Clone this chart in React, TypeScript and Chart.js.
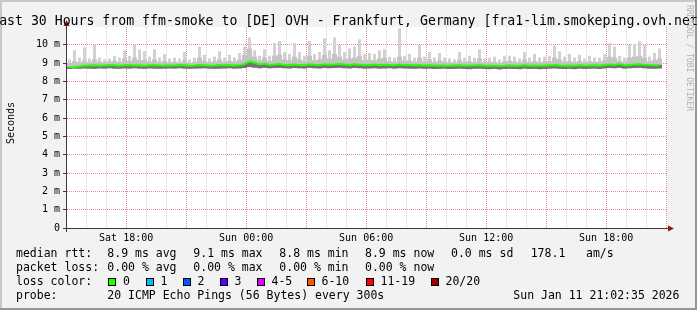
import React, { useEffect, useRef } from 'react';
import { Chart, registerables } from 'chart.js';

Chart.register(...registerables);

// ---- time frame (hours) ----
const START_CLOCK = 15 + 2 / 60 + 35 / 3600; // Sat 15:02:35, hours since Sat 00:00
const SPAN_HOURS = 30;
const BUCKET_HOURS = 0.25; // one smoke column per 15 minutes

// ---- series values (milliseconds), one value per 15-minute bucket ----
const smokeMax = [
  9.2, 9.7, 9.3, 9.85, 9.25, 10.0, 9.3, 9.2, 9.25, 9.4,
  9.3, 9.7, 9.4, 10.0, 9.75, 9.65, 9.35, 9.75, 9.3, 9.5,
  9.25, 9.3, 9.25, 9.6, 9.2, 9.3, 9.9, 9.45, 9.25, 9.35,
  9.65, 9.3, 9.45, 9.3, 9.55, 9.9, 10.4, 9.7, 9.4, 9.75,
  9.4, 10.1, 10.2, 9.6, 9.5, 10.1, 9.6, 9.4, 10.2, 9.5,
  9.6, 10.35, 9.7, 10.4, 10.0, 9.6, 9.8, 9.9, 10.3, 9.5,
  9.55, 9.5, 9.7, 9.75, 9.35, 9.3, 10.9, 9.4, 9.5, 9.3,
  10.0, 9.35, 9.6, 9.3, 9.55, 9.3, 9.25, 9.2, 9.6, 9.3,
  9.4, 9.3, 9.75, 9.25, 9.3, 9.35, 9.2, 9.4, 9.4, 9.35,
  9.25, 9.6, 9.3, 9.5, 9.3, 9.35, 9.4, 9.95, 9.65, 9.35,
  9.5, 9.3, 9.45, 9.25, 9.4, 9.3, 9.3, 9.5, 10.1, 9.9,
  9.4, 9.3, 10.0, 10.05, 10.2, 10.0, 9.35, 9.55, 9.8,
];

const smokeMid = [
  9.0, 9.1, 9.05, 9.15, 9.05, 9.2, 9.08, 9.05, 9.1, 9.12,
  9.06, 9.25, 9.12, 9.3, 9.15, 9.18, 9.08, 9.2, 9.06, 9.12,
  9.05, 9.08, 9.04, 9.15, 9.02, 9.06, 9.3, 9.12, 9.05, 9.1,
  9.2, 9.06, 9.12, 9.08, 9.18, 9.45, 9.8, 9.35, 9.15, 9.3,
  9.12, 9.4, 9.45, 9.2, 9.15, 9.35, 9.2, 9.12, 9.4, 9.15,
  9.2, 9.45, 9.25, 9.5, 9.35, 9.2, 9.25, 9.3, 9.4, 9.15,
  9.18, 9.15, 9.25, 9.3, 9.1, 9.08, 9.35, 9.12, 9.15, 9.08,
  9.3, 9.1, 9.2, 9.06, 9.15, 9.08, 9.05, 9.04, 9.18, 9.06,
  9.1, 9.05, 9.25, 9.04, 9.06, 9.08, 9.02, 9.1, 9.12, 9.08,
  9.04, 9.18, 9.06, 9.12, 9.05, 9.08, 9.1, 9.3, 9.2, 9.08,
  9.12, 9.06, 9.12, 9.04, 9.1, 9.06, 9.08, 9.15, 9.35, 9.3,
  9.12, 9.08, 9.3, 9.35, 9.4, 9.3, 9.1, 9.18, 9.25,
];

const smokeMin = [
  8.68, 8.7, 8.69, 8.71, 8.7, 8.69, 8.71, 8.7, 8.72, 8.7,
  8.69, 8.71, 8.7, 8.72, 8.7, 8.69, 8.71, 8.7, 8.69, 8.7,
  8.71, 8.7, 8.72, 8.7, 8.69, 8.7, 8.71, 8.72, 8.7, 8.69,
  8.7, 8.71, 8.72, 8.7, 8.71, 8.73, 8.78, 8.75, 8.72, 8.74,
  8.72, 8.73, 8.74, 8.72, 8.71, 8.73, 8.72, 8.71, 8.74, 8.72,
  8.71, 8.73, 8.72, 8.73, 8.74, 8.72, 8.71, 8.73, 8.72, 8.7,
  8.71, 8.72, 8.7, 8.71, 8.72, 8.7, 8.72, 8.71, 8.7, 8.69,
  8.71, 8.69, 8.7, 8.68, 8.69, 8.7, 8.68, 8.69, 8.7, 8.68,
  8.67, 8.69, 8.7, 8.68, 8.67, 8.69, 8.66, 8.68, 8.69, 8.68,
  8.67, 8.7, 8.68, 8.69, 8.67, 8.68, 8.7, 8.71, 8.69, 8.68,
  8.69, 8.67, 8.7, 8.68, 8.69, 8.7, 8.68, 8.71, 8.73, 8.72,
  8.74, 8.7, 8.72, 8.73, 8.74, 8.72, 8.7, 8.69, 8.71,
];

const medianRtt = [
  8.78, 8.79, 8.82, 8.86, 8.87, 8.88, 8.86, 8.87, 8.89, 8.88,
  8.86, 8.88, 8.9, 8.87, 8.88, 8.86, 8.88, 8.89, 8.87, 8.86,
  8.88, 8.87, 8.89, 8.88, 8.86, 8.87, 8.9, 8.88, 8.86, 8.87,
  8.89, 8.88, 8.9, 8.87, 8.89, 8.95, 9.08, 9.02, 8.92, 8.97,
  8.9, 8.93, 8.95, 8.9, 8.89, 8.92, 8.9, 8.88, 8.93, 8.91,
  8.9, 8.94, 8.91, 8.93, 8.95, 8.92, 8.9, 8.93, 8.91, 8.89,
  8.9, 8.92, 8.89, 8.91, 8.9, 8.88, 8.92, 8.9, 8.89, 8.88,
  8.9, 8.87, 8.88, 8.86, 8.87, 8.86, 8.85, 8.87, 8.88, 8.86,
  8.85, 8.87, 8.89, 8.86, 8.85, 8.86, 8.84, 8.85, 8.87, 8.86,
  8.85, 8.88, 8.86, 8.87, 8.85, 8.86, 8.88, 8.9, 8.87, 8.86,
  8.87, 8.85, 8.88, 8.86, 8.87, 8.88, 8.86, 8.89, 8.92, 8.9,
  8.95, 8.88, 8.9, 8.92, 8.94, 8.91, 8.89, 8.88, 8.9,
];

// ---- axis ticks ----
const xTickClock = [18, 24, 30, 36, 42]; // hours since Sat 00:00
const xTickLabels = ['Sat 18:00', 'Sun 00:00', 'Sun 06:00', 'Sun 12:00', 'Sun 18:00'];
const Y_MAX = 10.97;
const Y_STEP = 0.5;

// ---- legend texts ----
const rttStats = ['8.9 ms avg', '9.1 ms max', '8.8 ms min', '8.9 ms now', '0.0 ms sd', '178.1', 'am/s'];
const lossStats = ['0.00 % avg', '0.00 % max', '0.00 % min', '0.00 % now'];
const lossLabels = ['0', '1', '2', '3', '4-5', '6-10', '11-19', '20/20'];
const lossColors = ['#26ff00', '#00b8ff', '#0059ff', '#5e00ff', '#dd00ff', '#ff5500', '#ff0000', '#a10000'];
const probeText = '20 ICMP Echo Pings (56 Bytes) every 300s';
const stampText = 'Sun Jan 11 21:02:35 2026';
const titleText = 'Last 30 Hours from ffm-smoke to [DE] OVH - Frankfurt, Germany [fra1-lim.smokeping.ovh.net]';

const MONO = "'DejaVu Sans Mono', monospace";
const MAJOR = 'rgb(228, 140, 140)';
const MINOR = 'rgb(208, 208, 208)';
const AXIS = '#3a3a3a';
const ARROW = '#8b1a1a';

const W = 697;
const H = 310;
const PLOT_LEFT = 67;
const PLOT_RIGHT = 667;
const PLOT_TOP = 27;
const PLOT_BOTTOM = 228;

function bucketHour(i: number) {
  return (i + 0.5) * BUCKET_HOURS;
}

export default function App() {
  const ref = useRef<HTMLCanvasElement>(null);

  useEffect(() => {
    document.body.style.margin = '0';
    const canvas = ref.current;
    if (!canvas) return;

    const firstHour = Math.ceil(START_CLOCK);
    const hourClocks: number[] = [];
    for (let c = firstHour; c - START_CLOCK <= SPAN_HOURS; c++) hourClocks.push(c);
    const xTicks = hourClocks.map((c) => c - START_CLOCK);
    const xMajor = hourClocks.map((c) => c % 3 === 0);
    const xLabel = hourClocks.map((c) => {
      const k = xTickClock.indexOf(c);
      return k >= 0 ? xTickLabels[k] : '';
    });

    const yTicks: number[] = [];
    for (let k = 0; k * Y_STEP <= Y_MAX; k++) yTicks.push(k * Y_STEP);

    const range = (lo: number[], hi: number[]) =>
      hi.map((h, i) => ({ x: bucketHour(i), y: [lo[i], h] }));

    const framePlugin = {
      id: 'frame',
      beforeDraw(chart: any) {
        const { ctx, chartArea: a } = chart;
        ctx.save();
        ctx.fillStyle = '#f2f2f2';
        ctx.fillRect(0, 0, W, H);
        ctx.fillStyle = '#c8c8c8';
        ctx.fillRect(0, 0, W, 2);
        ctx.fillRect(0, 0, 2, H);
        ctx.fillStyle = '#969696';
        ctx.fillRect(0, H - 2, W, 2);
        ctx.fillRect(W - 2, 0, 2, H);
        ctx.fillStyle = '#ffffff';
        ctx.fillRect(a.left, a.top, a.right - a.left, a.bottom - a.top);
        ctx.restore();
      },
      beforeDatasetsDraw(chart: any) {
        const { ctx, chartArea: a, scales } = chart;
        const L = Math.round(a.left);
        const R = Math.round(a.right);
        const T = Math.round(a.top);
        const B = Math.round(a.bottom);
        ctx.save();
        const drawH = (py: number, col: string) => {
          ctx.fillStyle = col;
          for (let x = L; x < R; x += 2) ctx.fillRect(x, py, 1, 1);
        };
        const drawV = (px: number, col: string) => {
          ctx.fillStyle = col;
          for (let y = B - 1; y >= T; y -= 2) ctx.fillRect(px, y, 1, 1);
        };
        for (const pass of [false, true]) {
          scales.y.ticks.forEach((t: any) => {
            const major = Number.isInteger(t.value);
            if (major !== pass || t.value === 0) return;
            drawH(Math.floor(scales.y.getPixelForValue(t.value)), major ? MAJOR : MINOR);
          });
          scales.x.ticks.forEach((t: any, i: number) => {
            if (xMajor[i] !== pass) return;
            drawV(Math.floor(scales.x.getPixelForValue(t.value)), xMajor[i] ? MAJOR : MINOR);
          });
        }
        ctx.fillStyle = AXIS;
        scales.y.ticks.forEach((t: any) => {
          if (!Number.isInteger(t.value)) return;
          ctx.fillRect(L - 4, Math.floor(scales.y.getPixelForValue(t.value)), 3, 1);
        });
        ctx.restore();
      },
      afterDraw(chart: any) {
        const { ctx, chartArea: a } = chart;
        ctx.save();
        ctx.strokeStyle = AXIS;
        ctx.lineWidth = 1;
        const ax = a.left - 0.5;
        const ay = a.bottom + 0.5;
        ctx.beginPath();
        ctx.moveTo(ax, a.bottom + 4);
        ctx.lineTo(ax, a.top - 3);
        ctx.moveTo(a.left - 4, ay);
        ctx.lineTo(a.right + 2, ay);
        ctx.stroke();
        ctx.fillStyle = ARROW;
        ctx.beginPath();
        ctx.moveTo(ax - 3, a.top - 1);
        ctx.lineTo(ax + 3, a.top - 1);
        ctx.lineTo(ax, a.top - 7);
        ctx.closePath();
        ctx.fill();
        ctx.beginPath();
        ctx.moveTo(a.right + 1, ay - 3);
        ctx.lineTo(a.right + 1, ay + 3);
        ctx.lineTo(a.right + 7, ay);
        ctx.closePath();
        ctx.fill();
        ctx.restore();
      },
    };

    const bar = (data: any, color: string, width: number, order: number) =>
      ({
        type: 'bar',
        data,
        backgroundColor: color,
        barThickness: width,
        grouped: false,
        borderWidth: 0,
        inflateAmount: 0,
        order,
      }) as any;

    const chart = new Chart(canvas, {
      type: 'bar',
      data: {
        datasets: [
          {
            type: 'line',
            data: medianRtt.map((v, i) => ({ x: bucketHour(i), y: v })),
            borderColor: '#26ff00',
            borderWidth: 2,
            pointRadius: 0,
            tension: 0,
            order: 0,
          } as any,
          bar(range(smokeMin, medianRtt), '#737373', 5, 1),
          bar(range(smokeMin, smokeMid), '#c4c4c4', 5, 2),
          bar(range(smokeMin, smokeMax), '#d2d2d2', 3, 3),
        ],
      },
      options: {
        responsive: false,
        animation: false,
        devicePixelRatio: 1,
        layout: { padding: { left: 0, top: PLOT_TOP, right: W - PLOT_RIGHT, bottom: 0 } },
        plugins: { legend: { display: false }, tooltip: { enabled: false }, title: { display: false } },
        scales: {
          x: {
            type: 'linear',
            min: 0,
            max: SPAN_HOURS,
            offset: false,
            afterBuildTicks: (s: any) => {
              s.ticks = xTicks.map((v) => ({ value: v }));
            },
            afterFit: (s: any) => {
              s.height = H - PLOT_BOTTOM;
            },
            grid: { display: false, drawTicks: true, tickLength: 3, offset: false },
            border: { display: false },
            ticks: {
              autoSkip: false,
              maxRotation: 0,
              minRotation: 0,
              padding: 1,
              color: '#000',
              font: { family: MONO, size: 10 },
              callback: (_v: any, i: number) => xLabel[i],
            },
          },
          y: {
            min: 0,
            max: Y_MAX,
            afterBuildTicks: (s: any) => {
              s.ticks = yTicks.map((v) => ({ value: v }));
            },
            afterFit: (s: any) => {
              s.width = PLOT_LEFT;
            },
            grid: { display: false, drawTicks: true, tickLength: 3 },
            border: { display: false },
            ticks: {
              padding: 4,
              color: '#000',
              font: { family: MONO, size: 10 },
              callback: (v: any) => {
                const n = Number(v);
                if (!Number.isInteger(n)) return '';
                return n === 0 ? '0' : `${n} m`;
              },
            },
          },
        },
      } as any,
      plugins: [framePlugin],
    });

    return () => chart.destroy();
  }, []);

  const LF = 11.5;
  const txt = (x: number, base: number, s: string, size = LF, extra: any = {}) => (
    <div
      style={{
        position: 'absolute',
        left: x,
        top: base - 0.846 * size,
        fontSize: size,
        lineHeight: `${size}px`,
        whiteSpace: 'pre',
        color: '#000',
        fontFamily: MONO,
        ...extra,
      }}
    >
      {s}
    </div>
  );

  const colX = [107.3, 193.3, 279.3, 365, 451, 530.7, 586];
  const boxX = [108, 145.5, 182.5, 219.5, 256.5, 306.5, 365.5, 430.5];
  const B1 = 257.3;
  const B2 = 271.5;
  const B3 = 285.7;
  const B4 = 299.9;

  return (
    <div style={{ position: 'relative', width: W, height: H, overflow: 'hidden', fontFamily: MONO }}>
      <canvas
        ref={ref}
        width={W}
        height={H}
        style={{ position: 'absolute', left: 0, top: 0, width: W, height: H }}
      />
      <div
        style={{
          position: 'absolute',
          left: W / 2 - 500,
          width: 1000,
          top: 24.7 - 0.846 * 13.2,
          fontSize: 13.2,
          lineHeight: '13.2px',
          textAlign: 'center',
          whiteSpace: 'pre',
          color: '#000',
          fontFamily: MONO,
        }}
      >
        {titleText}
      </div>
      <div
        style={{
          position: 'absolute',
          left: 11 - 40,
          top: 123 - 6,
          width: 80,
          height: 12,
          lineHeight: '12px',
          fontSize: 10,
          textAlign: 'center',
          transform: 'rotate(-90deg)',
          transformOrigin: '50% 50%',
          color: '#000',
          fontFamily: MONO,
        }}
      >
        Seconds
      </div>
      <div
        style={{
          position: 'absolute',
          left: 693,
          top: 5,
          fontSize: 8,
          lineHeight: '8px',
          whiteSpace: 'pre',
          transform: 'rotate(90deg)',
          transformOrigin: '0 0',
          color: '#b0b0b0',
          fontFamily: MONO,
        }}
      >
        RRDTOOL / TOBI OETIKER
      </div>
      {txt(16, B1, 'median rtt:')}
      {rttStats.map((s, i) => <React.Fragment key={'r' + i}>{txt(colX[i], B1, s)}</React.Fragment>)}
      {txt(16, B2, 'packet loss:')}
      {lossStats.map((s, i) => <React.Fragment key={'l' + i}>{txt(colX[i], B2, s)}</React.Fragment>)}
      {txt(16, B3, 'loss color:')}
      {lossLabels.map((s, i) => (
        <React.Fragment key={'c' + i}>
          <div
            style={{
              position: 'absolute',
              left: Math.round(boxX[i]),
              top: 278,
              width: 8,
              height: 8,
              background: lossColors[i],
              border: '1px solid #000',
              boxSizing: 'border-box',
            }}
          />
          {txt(boxX[i] + 15, B3, s)}
        </React.Fragment>
      ))}
      {txt(16, B4, 'probe:')}
      {txt(107.3, B4, probeText)}
      {txt(513.3, B4, stampText)}
    </div>
  );
}
